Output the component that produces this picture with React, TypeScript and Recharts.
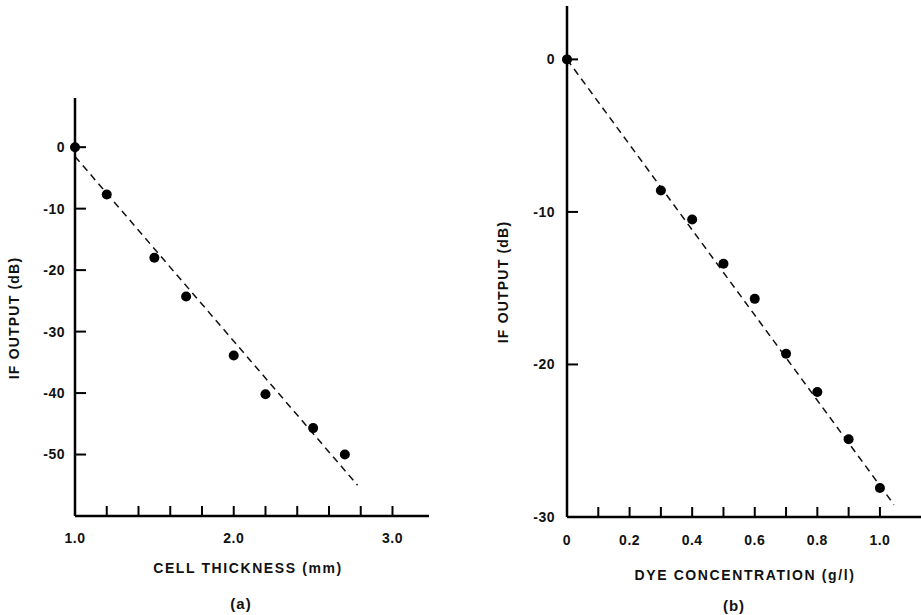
import { ComposedChart, Scatter, Line, XAxis, YAxis } from "recharts";

// (a) IF output vs cell thickness
const thicknessMm = [1.0, 1.2, 1.5, 1.7, 2.0, 2.2, 2.5, 2.7];
const thicknessOutputDb = [0, -7.7, -18.0, -24.3, -33.9, -40.2, -45.7, -50.0];
const thicknessFitMm = [1.0, 2.78];
const thicknessFitDb = [-1.5, -55];
const thicknessTicks = [1.0, 1.2, 1.4, 1.6, 1.8, 2.0, 2.2, 2.4, 2.6, 2.8, 3.0];
const thicknessDbTicks = [0, -10, -20, -30, -40, -50];

// (b) IF output vs dye concentration
const dyeConc = [0, 0.3, 0.4, 0.5, 0.6, 0.7, 0.8, 0.9, 1.0];
const dyeOutputDb = [0, -8.6, -10.5, -13.4, -15.7, -19.3, -21.8, -24.9, -28.1];
const dyeFitConc = [0, 1.045];
const dyeFitDb = [0, -29.2];
const dyeTicks = [0, 0.1, 0.2, 0.3, 0.4, 0.5, 0.6, 0.7, 0.8, 0.9, 1.0];
const dyeDbTicks = [0, -10, -20, -30];

const FONT = "'Liberation Sans', Arial, sans-serif";
const tickStyle = { fontSize: 14, fontWeight: 700, fill: "#111", fontFamily: FONT, letterSpacing: 0.5 };

const toPts = (xs: number[], ys: number[]) => xs.map((x, i) => ({ x, y: ys[i] }));

const Dot = (p: any) => <circle cx={p.cx} cy={p.cy} r={5} fill="#000" />;

type PanelProps = {
  left: number;
  width: number;
  height: number;
  margin: { top: number; right: number; bottom: number; left: number };
  yWidth: number;
  xDomain: number[];
  yDomain: number[];
  xTicks: number[];
  yTicks: number[];
  xFmt: (v: number) => string;
  xTickMargin: number;
  yTickMargin: number;
  points: { x: number; y: number }[];
  fit: { x: number; y: number }[];
};

function Panel(p: PanelProps) {
  return (
    <div style={{ position: "absolute", left: p.left, top: 0 }}>
      <ComposedChart width={p.width} height={p.height} margin={p.margin}>
        <XAxis
          type="number"
          dataKey="x"
          domain={p.xDomain}
          ticks={p.xTicks}
          interval={0}
          height={30}
          tickSize={-10}
          tickMargin={p.xTickMargin}
          tickFormatter={p.xFmt}
          tick={tickStyle}
          axisLine={{ stroke: "#000", strokeWidth: 2.5 }}
          tickLine={{ stroke: "#000", strokeWidth: 2 }}
        />
        <YAxis
          type="number"
          dataKey="y"
          domain={p.yDomain}
          ticks={p.yTicks}
          interval={0}
          width={p.yWidth}
          tickSize={-11}
          tickMargin={p.yTickMargin}
          tick={tickStyle}
          axisLine={{ stroke: "#000", strokeWidth: 2.5 }}
          tickLine={{ stroke: "#000", strokeWidth: 2 }}
        />
        <Line
          data={p.fit}
          dataKey="y"
          type="linear"
          stroke="#111"
          strokeWidth={1.5}
          strokeDasharray="7 5"
          dot={false}
          isAnimationActive={false}
        />
        <Scatter data={p.points} shape={Dot} isAnimationActive={false} />
      </ComposedChart>
    </div>
  );
}

const textStyle = {
  position: "absolute" as const,
  fontFamily: FONT,
  fontWeight: 700,
  fontSize: 14,
  letterSpacing: 1.6,
  color: "#111",
  whiteSpace: "nowrap" as const,
  transform: "translate(-50%, -50%)",
};

export default function App() {
  return (
    <div
      style={{
        position: "absolute",
        left: 0,
        top: 0,
        width: 921,
        height: 615,
        background: "#fff",
        overflow: "hidden",
      }}
    >
      <Panel
        left={0}
        width={440}
        height={615}
        margin={{ top: 98, right: 11, bottom: 69, left: 0 }}
        yWidth={75}
        xDomain={[1.0, 3.23]}
        yDomain={[-60, 8]}
        xTicks={thicknessTicks}
        yTicks={thicknessDbTicks}
        xFmt={(v) => (Math.abs(v - Math.round(v)) < 1e-6 ? v.toFixed(1) : "")}
        xTickMargin={27}
        yTickMargin={21}
        points={toPts(thicknessMm, thicknessOutputDb)}
        fit={toPts(thicknessFitMm, thicknessFitDb)}
      />
      <Panel
        left={440}
        width={490}
        height={615}
        margin={{ top: 6, right: 0, bottom: 68, left: 0 }}
        yWidth={127}
        xDomain={[0, 1.16]}
        yDomain={[-30, 3.5]}
        xTicks={dyeTicks}
        yTicks={dyeDbTicks}
        xFmt={(v) =>
          Math.round(v * 10) % 2 !== 0 ? "" : v === 0 ? "0" : v.toFixed(1)
        }
        xTickMargin={28}
        yTickMargin={23}
        points={toPts(dyeConc, dyeOutputDb)}
        fit={toPts(dyeFitConc, dyeFitDb)}
      />

      <div style={{ ...textStyle, left: 14, top: 318, letterSpacing: 1.2, transform: "translate(-50%, -50%) rotate(-90deg)" }}>
        IF OUTPUT (dB)
      </div>
      <div style={{ ...textStyle, left: 248, top: 568 }}>CELL THICKNESS (mm)</div>
      <div style={{ ...textStyle, left: 241, top: 603, fontSize: 15, letterSpacing: 1 }}>(a)</div>

      <div style={{ ...textStyle, left: 503, top: 282, letterSpacing: 1.2, transform: "translate(-50%, -50%) rotate(-90deg)" }}>
        IF OUTPUT (dB)
      </div>
      <div style={{ ...textStyle, left: 745, top: 575 }}>DYE CONCENTRATION (g/l)</div>
      <div style={{ ...textStyle, left: 734, top: 605, fontSize: 15, letterSpacing: 1 }}>(b)</div>
    </div>
  );
}
